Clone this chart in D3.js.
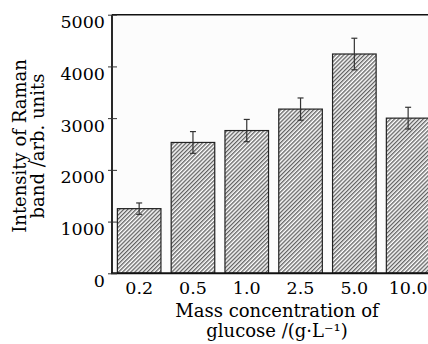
<!DOCTYPE html>
<html><head><meta charset="utf-8">
<script src="https://cdn.jsdelivr.net/npm/d3@7"></script>
<style>html,body{margin:0;padding:0;background:#fff;}svg{display:block;}</style>
</head><body>
<script>
const categories = ["0.2","0.5","1.0","2.5","5.0","10.0"];
const values = [1250, 2530, 2760, 3175, 4240, 3000];
const errors = [110, 210, 215, 215, 305, 210];
const yTicks = [0, 1000, 2000, 3000, 4000, 5000];
const yLabelLines = ["Intensity of Raman", "band /arb. units"];
const xLabelLines = ["Mass concentration of", "glucose /(g\u00B7L\u207B\u00B9)"];

const W = 428, H = 344;
const L = 112, T = 14.7, B = 273.3, R = 435.3;
const svg = d3.select("body").append("svg").attr("width", W).attr("height", H);
const font = "'DejaVu Serif', serif";

const defs = svg.append("defs");
const ps = 2.9;
const pat = defs.append("pattern").attr("id","hatch").attr("patternUnits","userSpaceOnUse")
  .attr("width",ps).attr("height",ps).attr("patternTransform","rotate(45)");
pat.append("rect").attr("width",ps).attr("height",ps).attr("fill","#fff");
pat.append("line").attr("x1",0.7).attr("y1",0).attr("x2",0.7).attr("y2",ps)
  .attr("stroke","#555").attr("stroke-width",1.25);

const x = d3.scaleBand().domain(categories).range([L, R]).paddingInner(0.19).paddingOuter(0.1);
const y = d3.scaleLinear().domain([0, 5000]).range([B, T]);

// plot background
svg.append("rect").attr("x",L).attr("y",T).attr("width",R-L).attr("height",B-T).attr("fill","#fcfcfc");

// bars
svg.selectAll("rect.bar").data(values).enter().append("rect").attr("class","bar")
  .attr("x",(d,i)=>x(categories[i])).attr("width",x.bandwidth())
  .attr("y",d=>y(d)).attr("height",d=>B-y(d))
  .attr("fill","url(#hatch)").attr("stroke","#222").attr("stroke-width",1.2);

// error bars
const eg = svg.append("g").attr("stroke","#333").attr("stroke-width",1.2).attr("fill","none");
values.forEach((v,i)=>{
  const cx = x(categories[i]) + x.bandwidth()/2;
  const hi = y(v+errors[i]), lo = y(v-errors[i]);
  eg.append("line").attr("x1",cx).attr("x2",cx).attr("y1",hi).attr("y2",lo);
  eg.append("line").attr("x1",cx-3).attr("x2",cx+3).attr("y1",hi).attr("y2",hi);
  eg.append("line").attr("x1",cx-3).attr("x2",cx+3).attr("y1",lo).attr("y2",lo);
});

// frame
svg.append("line").attr("x1",L).attr("x2",R).attr("y1",T).attr("y2",T).attr("stroke","#111").attr("stroke-width",1.6);
svg.append("line").attr("x1",L).attr("x2",L).attr("y1",T).attr("y2",B).attr("stroke","#111").attr("stroke-width",1.8);
svg.append("line").attr("x1",L-1).attr("x2",R).attr("y1",B).attr("y2",B).attr("stroke","#111").attr("stroke-width",2);

// y axis ticks
const yAxis = d3.axisLeft(y).tickValues(yTicks).tickSize(0).tickFormat(d3.format("d"));
const ya = svg.append("g").attr("transform",`translate(${L},0)`).call(yAxis);
ya.select(".domain").remove();
ya.selectAll(".tick line").remove();
ya.selectAll(".tick").append("line").attr("x1",-4).attr("x2",5).attr("stroke","#333").attr("stroke-width",1);
ya.selectAll(".tick text").attr("x",-7).attr("dy","0.75em")
  .style("font-family",font).style("font-size","17.5px").attr("fill","#000");

// x axis labels
const xAxis = d3.axisBottom(x).tickSize(0);
const xa = svg.append("g").attr("transform",`translate(0,${B})`).call(xAxis);
xa.select(".domain").remove();
xa.selectAll(".tick text").attr("y",20.3).attr("dy",0)
  .style("font-family",font).style("font-size","17.5px").attr("fill","#000");

// x title
const plotMid = 277;
svg.append("text").attr("x",plotMid).attr("y",316.7).attr("text-anchor","middle")
  .style("font-family",font).style("font-size","18px").attr("fill","#000").text(xLabelLines[0]);
svg.append("text").attr("x",plotMid).attr("y",336.5).attr("text-anchor","middle")
  .style("font-family",font).style("font-size","18px").attr("fill","#000").text(xLabelLines[1]);

// y title
const ymid = 146;
[26, 44].forEach((bx,i)=>{
  svg.append("text").attr("transform",`translate(${bx},${ymid}) rotate(-90)`).attr("text-anchor","middle")
    .style("font-family",font).style("font-size","18px").attr("fill","#000").text(yLabelLines[i]);
});
</script>
</body></html>
